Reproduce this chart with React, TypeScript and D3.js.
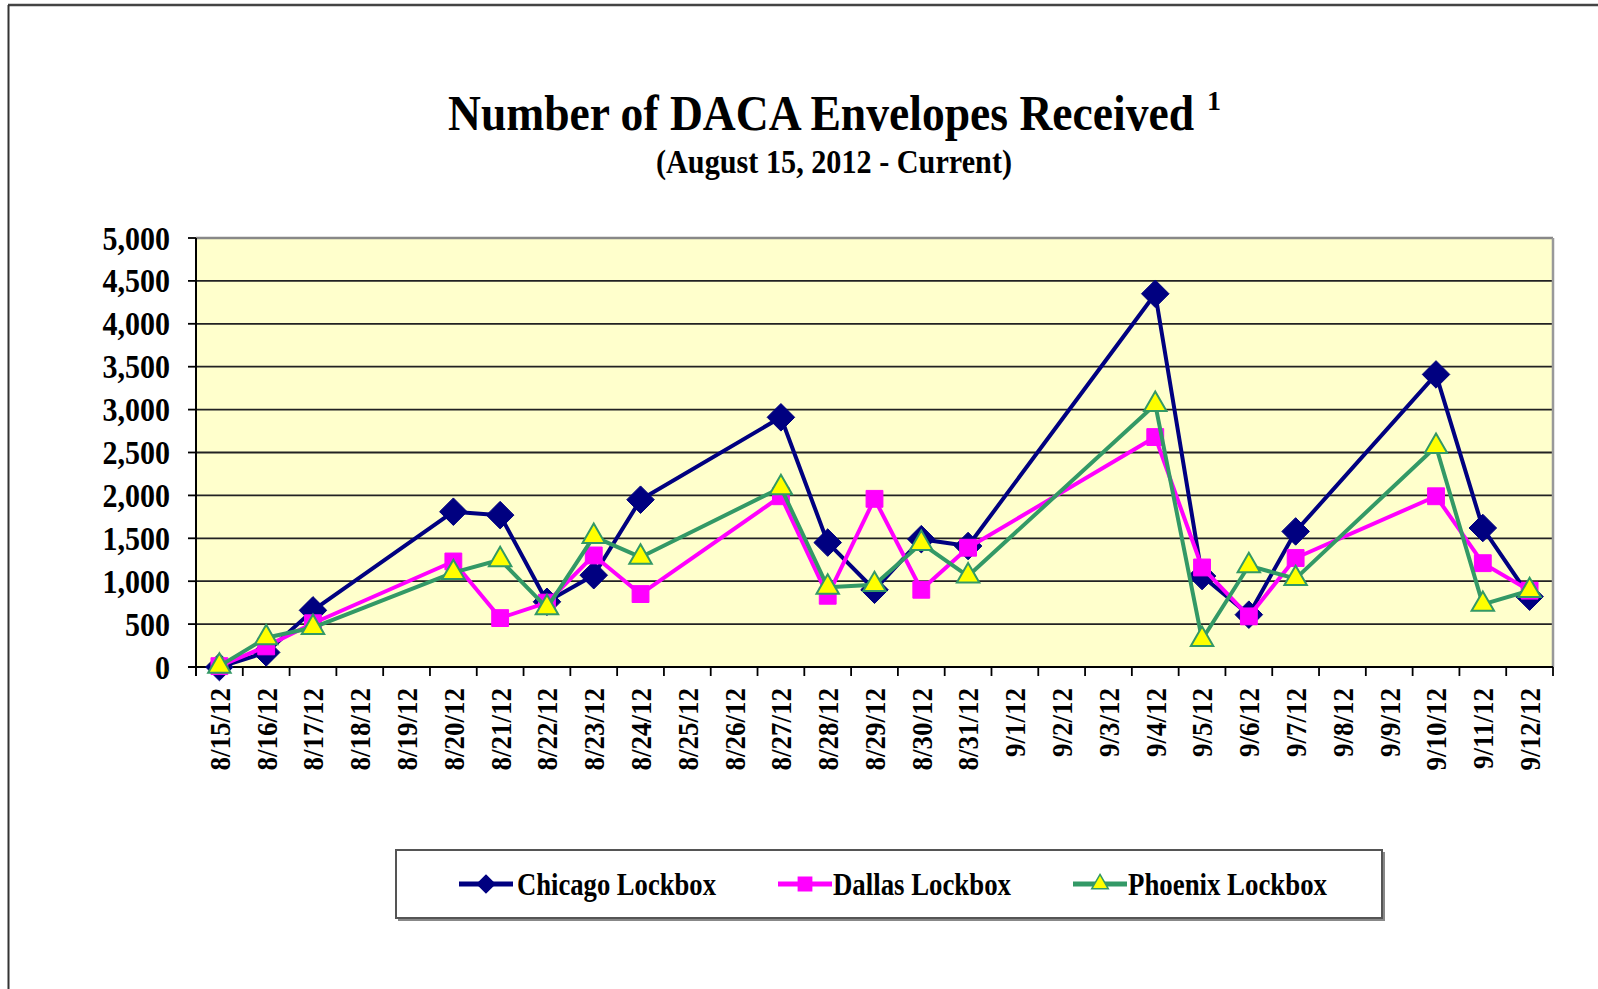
import React from "react";
import * as d3 from "d3";

const categories = [
  "8/15/12", "8/16/12", "8/17/12", "8/18/12", "8/19/12", "8/20/12", "8/21/12", "8/22/12",
  "8/23/12", "8/24/12", "8/25/12", "8/26/12", "8/27/12", "8/28/12", "8/29/12", "8/30/12",
  "8/31/12", "9/1/12", "9/2/12", "9/3/12", "9/4/12", "9/5/12", "9/6/12", "9/7/12",
  "9/8/12", "9/9/12", "9/10/12", "9/11/12", "9/12/12",
];

const chicago: (number | null)[] = [
  0, 170, 660, null, null, 1810, 1770, 760,
  1070, 1950, null, null, 2910, 1450, 900, 1490,
  1410, null, null, null, 4350, 1060, 610, 1580,
  null, null, 3410, 1620, 820,
];

const dallas: (number | null)[] = [
  10, 240, 510, null, null, 1230, 570, 750,
  1300, 850, null, null, 1990, 830, 1960, 900,
  1390, null, null, null, 2680, 1160, 590, 1270,
  null, null, 1990, 1210, 890,
];

const phoenix: (number | null)[] = [
  10, 340, 460, null, null, 1100, 1250, 690,
  1520, 1280, null, null, 2090, 930, 960, 1440,
  1060, null, null, null, 3060, 320, 1180, 1030,
  null, null, 2570, 730, 890,
];

const yTicks = [0, 500, 1000, 1500, 2000, 2500, 3000, 3500, 4000, 4500, 5000];

const seriesNames = ["Chicago Lockbox", "Dallas Lockbox", "Phoenix Lockbox"];

const FONT = "'Liberation Serif', 'Times New Roman', serif";

const W = 1598;
const H = 989;
const plot = { left: 196, right: 1553, top: 238, bottom: 667 };

const NAVY = "#000080";
const MAGENTA = "#FF00FF";
const GREEN = "#339966";
const YELLOW = "#FFFF00";

type Marker = "diamond" | "square" | "triangle";

function markerPath(kind: Marker, size: number): string {
  const sym =
    kind === "diamond" ? d3.symbolDiamond2 : kind === "square" ? d3.symbolSquare2 : d3.symbolTriangle2;
  return d3.symbol(sym, size)() || "";
}

export default function App() {
  const x = d3
    .scaleBand<string>()
    .domain(categories)
    .range([plot.left, plot.right])
    .paddingInner(0)
    .paddingOuter(0);
  const y = d3.scaleLinear().domain([0, 5000]).range([plot.bottom, plot.top]);
  const cx = (c: string) => (x(c) as number) + x.bandwidth() / 2;

  const series = [
    { name: seriesNames[0], values: chicago, color: NAVY, marker: "diamond" as Marker, fill: NAVY, mstroke: NAVY, msize: 22, lw: 4 },
    { name: seriesNames[1], values: dallas, color: MAGENTA, marker: "square" as Marker, fill: MAGENTA, mstroke: MAGENTA, msize: 19, lw: 4 },
    { name: seriesNames[2], values: phoenix, color: GREEN, marker: "triangle" as Marker, fill: YELLOW, mstroke: GREEN, msize: 19, lw: 4 },
  ];

  const line = d3
    .line<{ c: string; v: number }>()
    .x((d) => cx(d.c))
    .y((d) => y(d.v));

  const boundaries = d3.range(categories.length + 1).map((i) => plot.left + i * x.bandwidth());

  const legendItems = [
    { lx: 459, tx: 517, tw: 199 },
    { lx: 778, tx: 833, tw: 178 },
    { lx: 1073, tx: 1128, tw: 199 },
  ];
  const legendY = 884;

  return (
    <svg
      width={W}
      height={H}
      style={{ position: "absolute", left: 0, top: 0, background: "#fff" }}
      fontFamily={FONT}
    >
      {/* outer frame */}
      <line x1={8} y1={5} x2={W} y2={5} stroke="#444" strokeWidth={2.5} />
      <line x1={8.5} y1={5} x2={8.5} y2={H} stroke="#333" strokeWidth={2} />

      {/* title */}
      <text
        transform="translate(448,130) scale(1,1.11)"
        fontSize={45}
        fontWeight="bold"
        textLength={746}
        lengthAdjust="spacingAndGlyphs"
        fill="#000"
      >
        Number of DACA Envelopes Received
      </text>
      <text x={1207} y={110} fontSize={28} fontWeight="bold" fill="#000">
        1
      </text>
      <text
        transform="translate(656,173) scale(1,1.1)"
        fontSize={30}
        fontWeight="bold"
        textLength={356}
        lengthAdjust="spacingAndGlyphs"
        fill="#000"
      >
        (August 15, 2012 - Current)
      </text>

      {/* plot background */}
      <rect x={plot.left} y={plot.top} width={plot.right - plot.left} height={plot.bottom - plot.top} fill="#FFFFCC" />

      {/* gridlines */}
      {yTicks.map((t) => (
        <line key={"g" + t} x1={plot.left} x2={plot.right} y1={y(t)} y2={y(t)} stroke={t === 5000 ? "#888" : "#222"} strokeWidth={t === 5000 ? 2.5 : 1.8} />
      ))}
      {/* right border */}
      <line x1={plot.right} x2={plot.right} y1={plot.top} y2={plot.bottom} stroke="#999" strokeWidth={2.5} />

      {/* axes */}
      <line x1={plot.left} x2={plot.left} y1={plot.top} y2={plot.bottom + 9} stroke="#000" strokeWidth={2} />
      <line x1={plot.left - 8} x2={plot.right} y1={plot.bottom} y2={plot.bottom} stroke="#000" strokeWidth={2} />

      {yTicks.map((t) => (
        <g key={"yt" + t}>
          <line x1={plot.left - 8} x2={plot.left} y1={y(t)} y2={y(t)} stroke="#000" strokeWidth={1.8} />
          <text
            transform={`translate(170,${y(t)}) scale(1,1.1)`}
            dy="0.35em"
            textAnchor="end"
            fontSize={30}
            fontWeight="bold"
            fill="#000"
          >
            {d3.format(",")(t)}
          </text>
        </g>
      ))}

      {boundaries.map((bx, i) => (
        <line key={"xt" + i} x1={bx} x2={bx} y1={plot.bottom} y2={plot.bottom + 9} stroke="#000" strokeWidth={1.8} />
      ))}
      {categories.map((c) => (
        <text
          key={"xl" + c}
          transform={`translate(${cx(c)},688) rotate(-90) scale(1,1.1)`}
          dy="0.35em"
          textAnchor="end"
          fontSize={27}
          fontWeight="bold"
          fill="#000"
        >
          {c}
        </text>
      ))}

      {/* series */}
      {series.map((s) => {
        const pts = categories
          .map((c, i) => ({ c, v: s.values[i] }))
          .filter((d) => d.v !== null) as { c: string; v: number }[];
        const mp = markerPath(s.marker, s.msize * s.msize);
        return (
          <g key={s.name}>
            <path d={line(pts) || ""} fill="none" stroke={s.color} strokeWidth={s.lw} strokeLinejoin="round" />
            {pts.map((p) => (
              <path
                key={p.c}
                d={mp}
                transform={`translate(${cx(p.c)},${y(p.v)})`}
                fill={s.fill}
                stroke={s.mstroke}
                strokeWidth={s.marker === "triangle" ? 2 : 1}
              />
            ))}
          </g>
        );
      })}

      {/* legend */}
      <rect x={398} y={852} width={987} height={69} fill="#888" />
      <rect x={396} y={850} width={986} height={68} fill="#fff" stroke="#555" strokeWidth={2} />
      {series.map((s, i) => {
        const it = legendItems[i];
        const mp = markerPath(s.marker, s.marker === "diamond" ? 14 * 14 : s.marker === "square" ? 15 * 15 : 14 * 14);
        return (
          <g key={"lg" + s.name}>
            <line x1={it.lx} x2={it.lx + 54} y1={legendY} y2={legendY} stroke={s.color} strokeWidth={5} />
            <path d={mp} transform={`translate(${it.lx + 27},${legendY})`} fill={s.fill} stroke={s.mstroke} strokeWidth={1.5} />
            <text
              transform={`translate(${it.tx},${legendY}) scale(1,1.18)`}
              dy="0.33em"
              fontSize={27}
              fontWeight="bold"
              textLength={it.tw}
              lengthAdjust="spacingAndGlyphs"
              fill="#000"
            >
              {s.name}
            </text>
          </g>
        );
      })}
    </svg>
  );
}
